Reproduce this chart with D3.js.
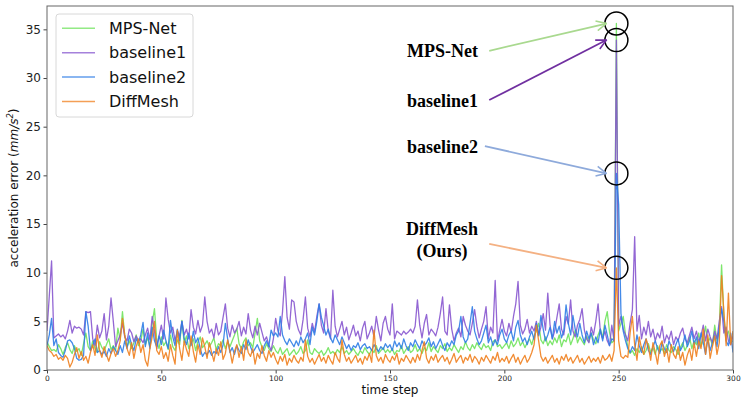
<!DOCTYPE html>
<html>
<head>
<meta charset="utf-8">
<script src="https://cdn.jsdelivr.net/npm/d3@7/dist/d3.min.js"></script>
<style>
  body { margin: 0; background: #fff; }
  svg { display: block; }
</style>
</head>
<body>
<script>

// ---- data ----
var seriesNames = ["MPS-Net", "baseline1", "baseline2", "DiffMesh"];
var seriesColors = ["#6fe35c", "#8757cf", "#2f7de6", "#f07f1e"];
var arrowColors = ["#a9d98f", "#7030a0", "#8eaadb", "#f4b183"];

var xTicks = [0, 50, 100, 150, 200, 250, 300];
var yTicks = [0, 5, 10, 15, 20, 25, 30, 35];

var mpsNet = [
  2.9, 2.4, 2.0, 2.1, 1.9, 2.6, 2.2, 1.6, 2.3, 2.8,
  2.1, 1.7, 2.5, 1.9, 2.2, 1.5, 2.7, 3.8, 2.4, 2.0,
  3.0, 2.2, 1.8, 2.9, 2.3, 2.0, 2.6, 3.2, 2.1, 2.5,
  2.0, 4.3, 3.1, 6.0, 3.5, 2.4, 3.0, 2.2, 2.8, 3.6,
  2.5, 3.0, 4.2, 2.6, 3.3, 2.4, 4.8, 6.3, 3.0, 2.2,
  3.4, 2.5, 2.9, 2.1, 3.6, 2.4, 2.0, 3.1, 2.6, 5.1,
  2.8, 3.5, 2.2, 2.7, 3.2, 2.0, 2.9, 3.4, 2.3, 2.6,
  3.0, 2.4, 2.8, 3.3, 2.1, 2.7, 2.5, 3.1, 2.2, 2.9,
  2.4, 3.0, 3.6, 4.3, 2.7, 2.2, 2.9, 3.3, 2.5, 2.8,
  2.3, 3.8, 5.3, 3.0, 2.4, 2.0, 2.7, 2.2, 1.9, 2.5,
  2.0, 1.7, 2.3, 1.6, 1.9, 2.2, 1.5, 1.8, 2.1, 1.6,
  1.9, 2.4, 1.7, 2.0, 3.1, 1.8, 1.6, 2.2, 1.9, 1.7,
  2.0, 1.5, 1.8, 2.3, 1.7, 1.9, 1.6, 2.1, 1.8, 2.4,
  1.7, 2.0, 1.6, 1.9, 2.2, 1.8, 1.5, 2.0, 1.7, 2.3,
  1.9, 1.6, 2.1, 1.8, 2.5, 1.7, 2.0, 2.3, 1.8, 2.1,
  1.8, 2.2, 1.6, 2.0, 1.9, 2.5, 1.7, 2.1, 2.4, 1.8,
  2.0, 2.6, 1.9, 2.2, 1.7, 2.3, 2.0, 2.8, 1.9, 2.4,
  2.1, 1.8, 2.5, 2.2, 2.7, 1.9, 2.3, 2.0, 2.6, 2.2,
  1.8, 2.4, 2.1, 2.9, 2.3, 2.0, 2.6, 2.2, 2.8, 2.4,
  2.1, 2.7, 2.3, 2.5, 2.0, 2.9, 3.1, 2.4, 2.6, 2.2,
  2.5, 2.8, 2.2, 3.0, 2.4, 2.7, 3.3, 2.5, 2.9, 2.3,
  2.8, 3.2, 2.6, 3.5, 4.0, 4.8, 3.1, 2.7, 3.4, 2.5,
  3.0, 2.6, 3.3, 2.8, 3.6, 2.4, 3.1, 2.9, 3.7, 2.6,
  3.2, 4.1, 2.8, 3.4, 3.0, 2.6, 3.5, 2.9, 3.8, 3.1,
  2.7, 3.6, 4.2, 3.3, 5.0, 6.0, 3.9, 2.8, 3.0, 35.6,
  4.0, 4.8, 5.5, 3.6, 2.4, 1.7, 2.0, 1.5, 2.2, 1.8,
  2.4, 1.6, 2.0, 2.7, 1.8, 2.3, 1.6, 2.5, 1.9, 2.2,
  1.7, 2.6, 2.0, 1.8, 2.4, 2.1, 1.6, 2.3, 2.8, 2.0,
  2.5, 3.4, 2.2, 3.0, 2.6, 3.8, 2.4, 3.1, 4.5, 2.8,
  3.3, 2.5, 4.6, 3.0, 4.2, 10.8, 5.5, 3.5, 4.0, 2.8,
  3.0
];

var baseline1 = [
  4.0, 7.6, 11.2, 3.3, 3.5, 3.7, 3.4, 3.6, 3.2, 4.0,
  5.1, 3.8, 4.5, 4.3, 4.4, 4.2, 3.6, 6.0, 5.9, 6.0,
  3.2, 2.5, 4.6, 3.3, 4.0, 5.8, 3.1, 4.5, 7.4, 5.0,
  2.4, 3.0, 3.6, 4.8, 3.4, 3.0, 4.2, 3.8, 2.9, 3.5,
  3.0, 3.2, 2.8, 3.6, 4.3, 3.1, 5.5, 4.0, 2.2, 3.5,
  4.6, 3.2, 7.4, 5.2, 3.8, 4.4, 3.0, 4.0, 3.5, 5.0,
  3.6, 4.2, 3.2, 6.2, 4.4, 3.7, 5.1, 3.9, 4.6, 7.5,
  5.0, 3.8, 4.2, 3.3, 4.8, 3.6, 4.0, 5.4, 6.8, 4.3,
  3.4, 4.6, 3.8, 4.2, 5.0, 3.5, 4.4, 3.7, 5.8, 4.1,
  3.3, 4.5, 3.6, 4.8, 3.9, 3.0, 3.4, 2.6, 2.0, 3.2,
  5.3, 4.0, 3.5, 6.0, 9.6, 5.4, 4.2, 7.2, 7.0, 5.0,
  4.1, 3.6, 5.2, 7.5, 4.3, 3.4, 4.8, 3.9, 5.5, 6.8,
  4.6, 3.8, 6.3, 4.0, 3.2, 8.2, 4.5, 3.4, 4.2, 5.0,
  3.6, 4.4, 3.1, 3.8, 4.6, 3.5, 4.0, 3.0, 4.3, 5.0,
  3.2, 3.8, 4.5, 3.4, 5.5, 4.1, 3.0, 4.8, 5.5, 4.2,
  3.6, 6.8, 3.2, 4.0, 3.8, 3.6, 4.0, 3.7, 3.9, 4.2,
  3.8, 4.5, 7.2, 4.6, 3.3, 4.8, 5.7, 3.6, 4.2, 3.9,
  3.5, 4.4, 5.8, 7.5, 4.0, 3.6, 6.7, 4.2, 3.0, 3.8,
  4.3, 3.4, 5.5, 4.6, 4.0, 3.6, 4.8, 6.2, 4.5, 3.3,
  4.2, 5.0, 6.5, 3.2, 4.4, 3.8, 9.2, 3.0, 4.1, 5.2,
  4.0, 3.5, 4.8, 3.9, 5.5, 6.8, 9.1, 4.6, 3.7, 4.2,
  5.2, 3.8, 4.5, 4.0, 5.0, 3.6, 4.4, 5.8, 4.1, 7.9,
  4.6, 3.2, 4.0, 5.4, 6.8, 4.2, 3.6, 5.5, 4.7, 7.2,
  4.0, 3.4, 4.6, 5.2, 6.3, 4.1, 3.2, 2.8, 4.4, 3.6,
  5.0, 6.8, 3.9, 3.2, 4.0, 3.0, 2.5, 4.6, 3.0, 33.9,
  4.5, 5.5, 4.2, 3.6, 3.0, 4.8, 6.2, 13.7, 4.0, 5.6,
  3.2, 4.4, 3.6, 5.0, 3.4, 4.2, 3.0, 3.8, 3.3, 4.5,
  2.8, 3.6, 3.1, 4.0, 2.6, 3.4, 3.0, 3.8, 4.3, 3.2,
  2.8, 3.6, 4.4, 3.2, 4.0, 2.9, 3.5, 4.6, 3.0, 4.2,
  3.4, 2.8, 4.0, 3.2, 5.0, 6.5, 3.8, 4.4, 3.0, 2.6,
  3.5
];

var baseline2 = [
  2.5, 3.6, 5.3, 2.5, 3.2, 1.8, 1.5, 1.3, 2.0, 3.0,
  3.1, 2.8, 2.2, 1.2, 1.0, 1.1, 1.5, 6.0, 4.5, 2.0,
  2.5, 3.2, 1.8, 2.0, 1.6, 1.9, 1.4, 2.2, 1.7, 2.4,
  2.0, 1.6, 2.5, 1.8, 3.0, 2.2, 3.5, 2.6, 2.0, 3.2,
  2.8, 3.6, 4.9, 2.4, 3.8, 2.2, 4.4, 3.0, 2.4, 3.5,
  2.6, 4.1, 3.0, 2.2, 5.1, 3.4, 2.5, 4.2, 3.0, 5.0,
  3.2, 2.6, 3.8, 2.5, 4.0, 2.8, 3.3, 2.2, 1.4, 1.8,
  1.6, 2.0, 1.5, 1.9, 1.7, 2.4, 1.8, 2.6, 4.8, 3.2,
  1.8, 2.3, 1.6, 2.5, 2.0, 1.7, 2.6, 2.1, 3.1, 2.4,
  1.8, 2.2, 2.6, 2.0, 1.7, 2.5, 3.0, 2.4, 4.1, 3.5,
  3.8, 3.4, 5.5, 3.6, 3.0, 2.6, 3.2, 2.8, 2.4, 3.0,
  2.5, 3.4, 2.8, 3.2, 3.8, 2.6, 4.4, 3.6, 5.0, 6.8,
  5.4, 4.5, 3.6, 4.2, 3.3, 2.8, 3.6, 3.1, 2.6, 3.4,
  2.8, 2.2, 2.6, 2.0, 2.5, 2.3, 2.8, 2.1, 2.5, 2.7,
  2.2, 2.4, 2.0, 2.6, 2.2, 1.9, 2.4, 2.1, 2.7, 2.3,
  2.6, 2.0, 3.0, 2.4, 2.8, 2.2, 3.2, 2.5, 2.0, 2.8,
  2.4, 3.1, 2.6, 2.2, 3.0, 2.5, 2.8, 3.3, 2.4, 2.9,
  2.2, 2.7, 3.2, 2.5, 2.0, 2.8, 2.4, 3.0, 2.6, 3.6,
  4.0, 5.5, 3.4, 2.8, 3.2, 4.8, 6.5, 4.0, 3.2, 2.6,
  3.0, 3.8, 4.6, 2.8, 3.4, 2.5, 3.1, 2.6, 3.6, 4.2,
  3.2, 2.8, 3.6, 4.0, 3.0, 4.4, 5.1, 3.6, 2.9, 3.3,
  2.6, 3.4, 4.0, 3.1, 4.8, 3.5, 5.6, 4.2, 3.0, 3.6,
  4.4, 3.2, 5.0, 3.8, 4.5, 3.3, 4.0, 6.7, 4.8, 3.6,
  5.6, 4.2, 3.4, 4.8, 3.6, 2.8, 4.0, 3.2, 3.8, 2.6,
  3.4, 2.8, 4.2, 3.0, 4.6, 3.6, 2.5, 3.2, 3.0, 20.2,
  17.0, 5.8, 4.0, 3.0, 2.2, 1.8, 2.4, 2.0, 3.6, 2.5,
  1.8, 2.6, 3.2, 2.0, 1.6, 2.4, 3.0, 2.2, 1.7, 2.8,
  2.2, 1.8, 3.0, 2.4, 1.9, 2.6, 3.2, 2.0, 2.5, 3.6,
  2.4, 3.0, 4.0, 2.6, 3.4, 2.2, 3.8, 2.8, 1.6, 3.2,
  2.0, 2.8, 3.6, 2.4, 4.4, 6.3, 5.0, 3.0, 2.5, 3.8,
  1.8
];

var diffMesh = [
  2.5, 2.0, 1.8, 1.4, 1.6, 1.1, 1.3, 1.0, 1.5, 1.2,
  0.3, 0.8, 1.6, 2.3, 1.2, 1.9, 1.0, 1.4, 0.7, 1.8,
  2.6, 1.5, 3.6, 2.0, 1.3, 2.4, 1.6, 0.9, 1.7, 2.2,
  1.4, 2.0, 3.0, 5.3, 3.6, 2.2, 1.5, 2.8, 1.2, 2.4,
  3.2, 1.8, 2.6, 1.0, 0.4, 2.2, 3.4, 5.0, 2.0, 1.6,
  2.4, 1.2, 1.8, 0.9, 2.6, 1.5, 0.6, 4.1, 2.2, 1.0,
  3.0, 2.1, 1.4, 3.5, 1.9, 0.8, 2.6, 1.6, 3.3, 2.4,
  1.2, 2.8, 1.8, 0.9, 2.2, 1.5, 2.9, 1.1, 1.7, 3.1,
  2.0, 0.7, 1.9, 2.6, 1.3, 2.4, 1.0, 3.1, 1.8, 1.4,
  2.2, 0.6, 1.7, 1.2, 2.5, 1.5, 0.9, 2.0, 1.3, 1.8,
  1.1, 0.6, 1.4, 0.9, 1.6, 0.5, 1.2, 0.8, 1.5, 1.0,
  0.7, 1.3, 0.9, 3.1, 1.4, 0.8, 1.2, 0.6, 1.1, 1.6,
  0.9, 1.3, 0.7, 1.5, 1.0, 0.6, 1.8, 1.2, 0.8, 3.1,
  1.6, 0.9, 1.3, 0.7, 1.1, 1.5, 0.8, 1.2, 0.6, 1.4,
  1.0, 1.7, 0.8, 4.1, 1.5, 0.9, 1.3, 0.7, 1.6, 1.1,
  0.8, 1.4, 1.0, 1.7, 0.6, 1.2, 0.9, 1.5, 1.1, 0.7,
  1.3, 0.8, 1.6, 1.0, 2.0, 2.9, 1.2, 0.7, 1.4, 1.0,
  1.6, 0.8, 1.2, 1.5, 0.9, 1.3, 0.6, 1.1, 1.7, 0.8,
  1.2, 1.5, 0.7, 1.3, 1.0, 1.6, 0.8, 1.4, 1.1, 0.6,
  1.3, 0.9, 1.5, 1.1, 0.7, 1.4, 1.0, 1.8, 0.8, 1.2,
  0.9, 1.4, 0.7, 1.2, 1.6, 0.8, 1.3, 0.6, 1.1, 1.5,
  0.8, 1.2, 1.8, 2.6, 4.6, 3.0, 1.4, 0.9, 1.3, 0.7,
  1.1, 1.5, 0.8, 1.2, 0.6, 1.4, 1.0, 1.6, 0.9, 1.3,
  0.7, 1.1, 1.5, 0.8, 1.2, 0.6, 1.0, 1.4, 0.8, 1.2,
  0.9, 1.3, 0.7, 1.5, 1.0, 1.2, 1.6, 0.9, 2.0, 10.5,
  3.0, 1.4, 1.2, 1.5, 1.3, 3.8, 5.5, 2.6, 1.0, 3.4,
  2.2, 1.6, 3.2, 2.4, 1.0, 2.8, 1.8, 0.6, 2.5, 3.0,
  1.4, 2.2, 0.8, 2.6, 1.6, 1.2, 2.4, 1.0, 1.8, 0.5,
  1.5, 2.2, 1.0, 2.8, 1.4, 3.0, 2.2, 4.2, 1.6, 3.6,
  1.2, 2.4, 3.5, 1.6, 2.8, 9.7, 6.0, 2.5, 7.9, 2.6,
  4.0
];

var allSeries = [mpsNet, baseline1, baseline2, diffMesh];

// annotation label anchors, in data units (step, value)
var labelLines = [["MPS-Net"], ["baseline1"], ["baseline2"], ["DiffMesh", "(Ours)"]];
var labelAnchors = [[157.4, 32.13], [157.4, 27.05], [157.4, 22.33], [172.7, 13.87]];
var arrowStarts = [[193.4, 32.8], [193.4, 27.74], [191.5, 23.0], [193.4, 12.95]];

// ---- layout ----
var width = 747, height = 411;
var margin = {top: 6, right: 14, bottom: 41, left: 47};
var plot_width = width - margin.left - margin.right;
var plot_height = height - margin.top - margin.bottom;

var svg = d3.select("body").append("svg")
            .attr("width", width)
            .attr("height", height);

svg.append("rect").attr("width", width).attr("height", height).style("fill", "white");

var defs = svg.append("defs");
arrowColors.forEach(function(c, i)
{
  defs.append("marker")
      .attr("id", "arrow" + i)
      .attr("viewBox", "0 0 12 12")
      .attr("refX", 11).attr("refY", 6)
      .attr("markerWidth", 12).attr("markerHeight", 12)
      .attr("markerUnits", "userSpaceOnUse")
      .attr("orient", "auto")
      .append("path")
      .attr("d", "M1,1 L11,6 L1,11")
      .style("fill", "none")
      .style("stroke", c)
      .style("stroke-width", 1.6);
});

var xScale = d3.scaleLinear().domain([0, 300]).range([0, plot_width]);
var yScale = d3.scaleLinear().domain([0, 37.4]).range([plot_height, 0]);

var chartGroup = svg.append("g")
                    .attr("transform", "translate(" + margin.left + "," + margin.top + ")");

chartGroup.append("defs").append("clipPath").attr("id", "clip")
          .append("rect").attr("width", plot_width).attr("height", plot_height);

// series lines
var line = d3.line()
             .x(function(d, i) { return xScale(i); })
             .y(function(d) { return yScale(d); });

var linesGroup = chartGroup.append("g").attr("clip-path", "url(#clip)");
allSeries.forEach(function(s, i)
{
  linesGroup.append("path")
            .datum(s)
            .attr("d", line)
            .style("fill", "none")
            .style("stroke", seriesColors[i])
            .style("stroke-width", 1.3)
            .style("stroke-opacity", 0.9)
            .style("stroke-linejoin", "round");
});

// axes
var xAxis = d3.axisBottom(xScale).tickValues(xTicks).tickSize(3.5).tickPadding(2);
var yAxis = d3.axisLeft(yScale).tickValues(yTicks).tickSize(3.5).tickPadding(2.5);

var gx = chartGroup.append("g")
                   .attr("transform", "translate(0," + plot_height + ")")
                   .call(xAxis);
gx.selectAll("text").style("font-family", "DejaVu Sans").style("font-size", "7.5px").style("fill", "#222");

var gy = chartGroup.append("g").call(yAxis);
gy.selectAll("text").style("font-family", "DejaVu Sans").style("font-size", "12px").style("fill", "#222");

chartGroup.selectAll(".domain").remove();
chartGroup.selectAll(".tick line").style("stroke", "#444");

// frame
chartGroup.append("rect")
          .attr("width", plot_width)
          .attr("height", plot_height)
          .style("fill", "none")
          .style("stroke", "#666")
          .style("stroke-width", 1);

// axis labels
chartGroup.append("text")
          .attr("x", plot_width / 2)
          .attr("y", plot_height + 24)
          .attr("text-anchor", "middle")
          .style("font-family", "DejaVu Sans")
          .style("font-size", "12px")
          .style("fill", "#111")
          .text("time step");

var ylab = chartGroup.append("text")
          .attr("text-anchor", "middle")
          .attr("transform", "translate(" + (-29) + "," + (plot_height / 2) + ") rotate(-90)")
          .style("font-family", "DejaVu Sans")
          .style("font-size", "12px")
          .style("fill", "#111");
ylab.append("tspan").text("acceleration error (");
ylab.append("tspan").style("font-style", "italic").text("mm/s");
ylab.append("tspan").attr("dy", -5).style("font-size", "8.5px").style("font-style", "italic").text("2");
ylab.append("tspan").attr("dy", 5).text(")");

// peak circles, annotations and arrows
var peakStep = 249;
allSeries.forEach(function(s, i)
{
  var cx = xScale(peakStep), cy = yScale(s[peakStep]);

  chartGroup.append("circle")
            .attr("cx", cx).attr("cy", cy).attr("r", 11.5)
            .style("fill", "none")
            .style("stroke", "#000")
            .style("stroke-width", 1.5);

  chartGroup.append("line")
            .attr("x1", xScale(arrowStarts[i][0]))
            .attr("y1", yScale(arrowStarts[i][1]))
            .attr("x2", cx - 10)
            .attr("y2", cy)
            .attr("marker-end", "url(#arrow" + i + ")")
            .style("stroke", arrowColors[i])
            .style("stroke-width", 1.8);

  var t = chartGroup.append("text")
                    .attr("x", xScale(labelAnchors[i][0]))
                    .attr("y", yScale(labelAnchors[i][1]))
                    .attr("text-anchor", labelLines[i].length > 1 ? "middle" : "start")
                    .style("font-family", "Liberation Serif")
                    .style("font-weight", "bold")
                    .style("font-size", "18px")
                    .style("fill", "#000");
  labelLines[i].forEach(function(l, j)
  {
    t.append("tspan")
     .attr("x", xScale(labelAnchors[i][0]))
     .attr("dy", j === 0 ? 0 : 21.5)
     .text(l);
  });
});

// legend
var legend = svg.append("g").attr("transform", "translate(56,14)");
legend.append("rect")
      .attr("width", 137).attr("height", 103)
      .attr("rx", 3).attr("ry", 3)
      .style("fill", "white").style("fill-opacity", 0.85)
      .style("stroke", "#d8d8d8");

seriesNames.forEach(function(n, i)
{
  var yy = 14.3 + i * 24.4;
  legend.append("line")
        .attr("x1", 6).attr("x2", 39)
        .attr("y1", yy).attr("y2", yy)
        .style("stroke", seriesColors[i])
        .style("stroke-opacity", 0.75)
        .style("stroke-width", 1.5);
  legend.append("text")
        .attr("x", 53).attr("y", yy + 5.5)
        .style("font-family", "DejaVu Sans")
        .style("font-size", "16px")
        .style("fill", "#111")
        .text(n);
});

</script>
</body>
</html>
